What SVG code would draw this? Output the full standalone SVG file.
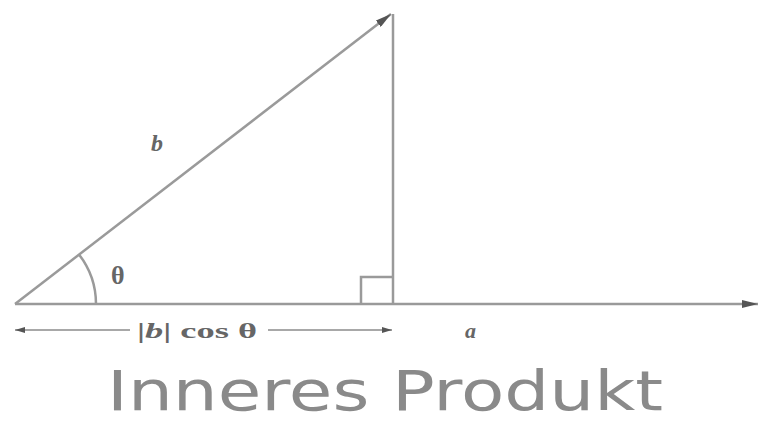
<svg xmlns="http://www.w3.org/2000/svg" width="763" height="425" viewBox="0 0 763 425">
<defs>
<style>
.ln{stroke:#9a9a9a;stroke-width:2.5;fill:none}
.thin{stroke:#a8a8a8;stroke-width:2;fill:none}
.lbl{font-family:"Liberation Serif",serif;fill:#666}
.title{font-family:"DejaVu Sans","Liberation Sans",sans-serif;fill:#8a8a8a;font-weight:normal}
</style>
<marker id="ah" viewBox="0 0 10 6" refX="10" refY="3" markerWidth="10" markerHeight="6" markerUnits="userSpaceOnUse" orient="auto-start-reverse">
<path d="M0,0 L10,3 L0,6 Z" fill="#555"/>
</marker>
<marker id="ahBig" viewBox="0 0 16 8" refX="16" refY="4" markerWidth="16" markerHeight="8" markerUnits="userSpaceOnUse" orient="auto">
<path d="M0,0 L16,4 L0,8 Z" fill="#555"/>
</marker>
</defs>
<rect width="763" height="425" fill="#fff"/>
<g id="connectors">
<line id="vec-a" class="ln" x1="15" y1="304" x2="758" y2="304" marker-end="url(#ahBig)"/>
<line id="vec-b" class="ln" x1="15" y1="304" x2="391" y2="14" marker-end="url(#ahBig)"/>
<line id="perp" class="ln" x1="393" y1="14" x2="393" y2="304"/>
<path id="right-angle" class="ln" d="M393,277 H361 V304"/>
<path id="angle-arc" class="ln" d="M96,304 A81,81 0 0 0 79,254.5"/>
<line id="dim-left" class="thin" x1="130" y1="330" x2="15" y2="330" marker-end="url(#ah)"/>
<line id="dim-right" class="thin" x1="268" y1="330" x2="392" y2="330" marker-end="url(#ah)"/>
</g>
<g id="label-b"><text class="lbl" x="151" y="151" font-size="24" font-style="italic" font-weight="bold">b</text></g>
<g id="label-theta"><text class="lbl" x="111" y="284" font-size="26" font-weight="bold">θ</text></g>
<g id="label-proj"><text class="lbl" x="137" y="338" font-size="22" font-weight="bold" textLength="120" lengthAdjust="spacingAndGlyphs">|<tspan font-style="italic">b</tspan>| cos θ</text></g>
<g id="label-a"><text class="lbl" x="465" y="338" font-size="22" font-style="italic" font-weight="bold">a</text></g>
<g id="title"><text class="title" x="107" y="410" font-size="56" textLength="556" lengthAdjust="spacingAndGlyphs">Inneres Produkt</text></g>
</svg>
